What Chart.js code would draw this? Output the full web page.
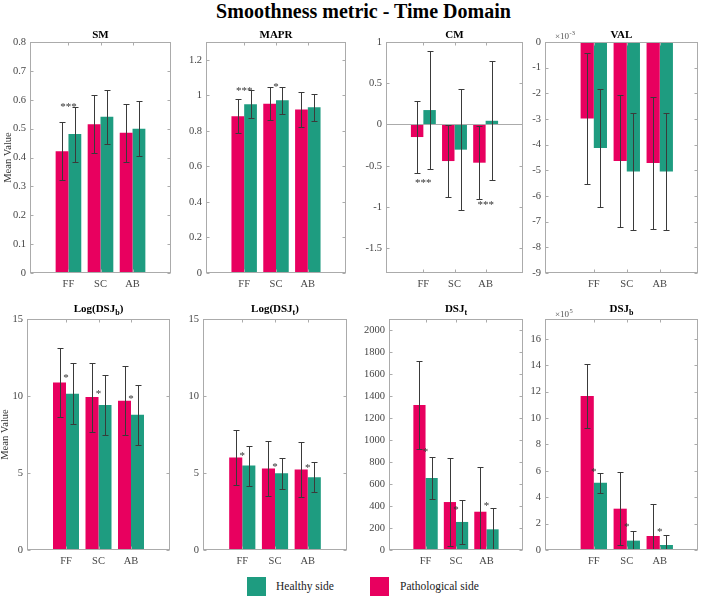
<!DOCTYPE html>
<html>
<head>
<meta charset="utf-8">
<script src="https://cdn.jsdelivr.net/npm/chart.js@4.4.1/dist/chart.umd.min.js"></script>
<style>
  body { margin: 0; background: #fff; }
  #fig { position: relative; width: 702px; height: 599px; overflow: hidden; font-family: 'Liberation Serif', serif; }
  #fig canvas { position: absolute; }
  .main-title { position: absolute; left: 0; width: 727px; top: 0; text-align: center; font-weight: bold; font-size: 20px; line-height: 22px; color: #000; }
  .swatch { position: absolute; top: 577px; width: 19px; height: 19px; }
  .leg-text { position: absolute; top: 578px; font-size: 11.5px; line-height: 17px; color: #222; }
</style>
</head>
<body>
<div id="fig">
  <div class="main-title">Smoothness metric - Time Domain</div>
  <div class="swatch" style="left:247px;background:#1e9c80"></div>
  <div class="leg-text" style="left:276px">Healthy side</div>
  <div class="swatch" style="left:370px;background:#e8005f"></div>
  <div class="leg-text" style="left:400px">Pathological side</div>
</div>
<script>
const categories = ['FF', 'SC', 'AB'];

// SM
const smPath = [0.422, 0.515, 0.486];
const smPathSd = [0.101, 0.101, 0.100];
const smHealthy = [0.481, 0.541, 0.500];
const smHealthySd = [0.095, 0.094, 0.094];
const smStarY = [0.585, null, null];
const smStars = ['***', '', ''];
const smTicks = [0, 0.1, 0.2, 0.3, 0.4, 0.5, 0.6, 0.7, 0.8];

// MAPR
const maprPath = [0.882, 0.953, 0.920];
const maprPathSd = [0.095, 0.094, 0.097];
const maprHealthy = [0.950, 0.972, 0.933];
const maprHealthySd = [0.078, 0.077, 0.077];
const maprStarY = [1.04, 1.065, null];
const maprStars = ['***', '*', ''];
const maprTicks = [0, 0.2, 0.4, 0.6, 0.8, 1, 1.2];

// CM
const cmPath = [-0.152, -0.443, -0.463];
const cmPathSd = [0.44, 0.44, 0.44];
const cmHealthy = [0.175, -0.305, 0.045];
const cmHealthySd = [0.72, 0.73, 0.72];
const cmStarY = [-0.67, null, -0.94];
const cmStars = ['***', '', '***'];
const cmTicks = [-1.5, -1, -0.5, 0, 0.5, 1];

// VAL (x10^-3)
const valPath = [-2.98, -4.64, -4.71];
const valPathSd = [2.55, 2.57, 2.57];
const valHealthy = [-4.13, -5.05, -5.05];
const valHealthySd = [2.30, 2.29, 2.29];
const valStarY = [null, null, null];
const valStars = ['', '', ''];
const valTicks = [-9, -8, -7, -6, -5, -4, -3, -2, -1, 0];

// Log(DSJb)
const ldbPath = [10.88, 9.93, 9.69];
const ldbPathSd = [2.23, 2.24, 2.23];
const ldbHealthy = [10.15, 9.41, 8.78];
const ldbHealthySd = [1.98, 1.95, 1.95];
const ldbStarY = [11.38, 10.34, 10.0];
const ldbStars = ['*', '*', '*'];
const ldbTicks = [0, 5, 10, 15];

// Log(DSJt)
const ldtPath = [6.0, 5.29, 5.22];
const ldtPathSd = [1.77, 1.79, 1.77];
const ldtHealthy = [5.48, 4.99, 4.73];
const ldtHealthySd = [1.3, 1.0, 0.99];
const ldtStarY = [6.29, 5.59, 5.5];
const ldtStars = ['*', '*', '*'];
const ldtTicks = [0, 5, 10, 15];

// DSJt
const dstPath = [1318, 436, 348];
const dstPathSd = [400, 400, 405];
const dstHealthy = [655, 255, 188];
const dstHealthySd = [194, 197, 197];
const dstStarY = [921, 394, 424];
const dstStars = ['*', '*', '*'];
const dstTicks = [0, 200, 400, 600, 800, 1000, 1200, 1400, 1600, 1800, 2000];

// DSJb (x10^5)
const dsbPath = [11.67, 3.13, 1.06];
const dsbPathSd = [2.39, 2.77, 2.40];
const dsbHealthy = [5.10, 0.71, 0.38];
const dsbHealthySd = [0.76, 0.75, 0.73];
const dsbStarY = [6.16, 1.94, 1.62];
const dsbStars = ['*', '*', '*'];
const dsbTicks = [0, 2, 4, 6, 8, 10, 12, 14, 16];

const pink = '#e8005f';
const green = '#1e9c80';
const boxColor = '#ababab';
const errColor = '#3a3a3a';
const tickColor = '#454545';
const serif = "'Liberation Serif', 'Times New Roman', serif";

// box = [left, top, right, bottom] of the plot area on the page
const panels = [
  { title: [['SM']], path: smPath, pathSd: smPathSd, healthy: smHealthy, healthySd: smHealthySd,
    starY: smStarY, stars: smStars, ticks: smTicks, yMin: 0, yMax: 0.8,
    box: [30, 42, 171, 273], xMin: -0.2, xMax: 4.2, yTitle: true, titleOff: 4 },
  { title: [['MAPR']], path: maprPath, pathSd: maprPathSd, healthy: maprHealthy, healthySd: maprHealthySd,
    starY: maprStarY, stars: maprStars, ticks: maprTicks, yMin: 0, yMax: 1.3,
    box: [206, 42, 346, 273], xMin: -0.2, xMax: 4.2, titleOff: 4 },
  { title: [['CM']], path: cmPath, pathSd: cmPathSd, healthy: cmHealthy, healthySd: cmHealthySd,
    starY: cmStarY, stars: cmStars, ticks: cmTicks, yMin: -1.8, yMax: 1,
    box: [386, 42, 523, 273], xMin: -0.2, xMax: 4.2, titleOff: 4 },
  { title: [['VAL']], path: valPath, pathSd: valPathSd, healthy: valHealthy, healthySd: valHealthySd,
    starY: valStarY, stars: valStars, ticks: valTicks, yMin: -9, yMax: 0,
    box: [545, 42, 698, 273], xMin: -0.48, xMax: 4.16, titleOff: 4, exp: '-3', expOff: 3.5 },
  { title: [['Log(DSJ'], ['b', 1], [')']], path: ldbPath, pathSd: ldbPathSd, healthy: ldbHealthy, healthySd: ldbHealthySd,
    starY: ldbStarY, stars: ldbStars, ticks: ldbTicks, yMin: 0, yMax: 15,
    box: [27, 319, 170, 550], xMin: -0.2, xMax: 4.2, yTitle: true, titleOff: 7 },
  { title: [['Log(DSJ'], ['t', 1], [')']], path: ldtPath, pathSd: ldtPathSd, healthy: ldtHealthy, healthySd: ldtHealthySd,
    starY: ldtStarY, stars: ldtStars, ticks: ldtTicks, yMin: 0, yMax: 15,
    box: [203, 319, 347, 550], xMin: -0.2, xMax: 4.2, titleOff: 7 },
  { title: [['DSJ'], ['t', 1]], path: dstPath, pathSd: dstPathSd, healthy: dstHealthy, healthySd: dstHealthySd,
    starY: dstStarY, stars: dstStars, ticks: dstTicks, yMin: 0, yMax: 2100,
    box: [389, 319, 523, 550], xMin: -0.2, xMax: 4.2, titleOff: 7 },
  { title: [['DSJ'], ['b', 1]], path: dsbPath, pathSd: dsbPathSd, healthy: dsbHealthy, healthySd: dsbHealthySd,
    starY: dsbStarY, stars: dsbStars, ticks: dsbTicks, yMin: 0, yMax: 17.5,
    box: [545, 319, 698, 550], xMin: -0.48, xMax: 4.16, titleOff: 7, exp: '5', expOff: 2 },
];

function fmt(v) {
  return String(Math.round(v * 100) / 100);
}

function makeDecor(p) {
  return {
    id: 'decor',
    afterDatasetsDraw(chart) {
      const { ctx, chartArea: a, scales: { x, y } } = chart;
      ctx.save();
      ctx.lineWidth = 1;

      // zero line when the axis crosses 0
      if (p.yMin < 0 && p.yMax > 0) {
        const y0 = Math.round(y.getPixelForValue(0)) + 0.5;
        ctx.strokeStyle = boxColor;
        ctx.beginPath();
        ctx.moveTo(a.left, y0);
        ctx.lineTo(a.right, y0);
        ctx.stroke();
      }

      // error bars, clipped to the plot
      ctx.save();
      ctx.beginPath();
      ctx.rect(a.left, a.top, a.right - a.left, a.bottom - a.top);
      ctx.clip();
      ctx.strokeStyle = errColor;
      [[p.path, p.pathSd], [p.healthy, p.healthySd]].forEach(([m, sd], di) => {
        chart.getDatasetMeta(di).data.forEach((bar, i) => {
          const bx = Math.round(bar.x) + 0.5;
          const hi = Math.round(y.getPixelForValue(m[i] + sd[i])) + 0.5;
          const lo = Math.round(y.getPixelForValue(m[i] - sd[i])) + 0.5;
          ctx.beginPath();
          ctx.moveTo(bx, hi); ctx.lineTo(bx, lo);
          ctx.moveTo(bx - 3, hi); ctx.lineTo(bx + 3, hi);
          ctx.moveTo(bx - 3, lo); ctx.lineTo(bx + 3, lo);
          ctx.stroke();
        });
      });
      ctx.restore();

      // axes box and inward ticks
      ctx.strokeStyle = boxColor;
      const L = Math.round(a.left) + 0.5, R = Math.round(a.right) - 0.5;
      const T = Math.round(a.top) + 0.5, B = Math.round(a.bottom) - 0.5;
      ctx.strokeRect(L, T, R - L, B - T);
      ctx.beginPath();
      p.ticks.forEach(v => {
        const ty = Math.round(y.getPixelForValue(v)) + 0.5;
        ctx.moveTo(L, ty); ctx.lineTo(L + 3, ty);
        ctx.moveTo(R, ty); ctx.lineTo(R - 3, ty);
      });
      categories.forEach((c, i) => {
        const tx = Math.round(x.getPixelForValue(i + 1)) + 0.5;
        ctx.moveTo(tx, T); ctx.lineTo(tx, T + 3);
        ctx.moveTo(tx, B); ctx.lineTo(tx, B - 3);
      });
      ctx.stroke();

      // significance stars
      ctx.fillStyle = '#333';
      ctx.font = '11px ' + serif;
      ctx.textAlign = 'center';
      ctx.textBaseline = 'alphabetic';
      p.stars.forEach((s, i) => {
        if (!s) return;
        ctx.fillText(s, x.getPixelForValue(i + 1), y.getPixelForValue(p.starY[i]) + 6);
      });

      // y axis label
      if (p.yTitle) {
        ctx.save();
        ctx.fillStyle = '#333';
        ctx.font = '10.5px ' + serif;
        ctx.textAlign = 'center';
        ctx.textBaseline = 'middle';
        ctx.translate(a.left - 21.5, (a.top + a.bottom) / 2);
        ctx.rotate(-Math.PI / 2);
        ctx.fillText('Mean Value', 0, 0);
        ctx.restore();
      }

      // panel title with subscripts
      ctx.fillStyle = '#000';
      ctx.textAlign = 'left';
      const parts = p.title.map(([t, sub]) => {
        ctx.font = (sub ? 'bold 8px ' : 'bold 11px ') + serif;
        return { t, sub, w: ctx.measureText(t).width };
      });
      const total = parts.reduce((s, q) => s + q.w, 0);
      let tx = (a.left + a.right) / 2 - total / 2;
      const base = a.top - p.titleOff;
      parts.forEach(q => {
        ctx.font = (q.sub ? 'bold 8px ' : 'bold 11px ') + serif;
        ctx.fillText(q.t, tx, base + (q.sub ? 3 : 0));
        tx += q.w;
      });

      // exponent label
      if (p.exp) {
        ctx.fillStyle = '#555';
        ctx.font = '9px ' + serif;
        const ex = a.left + 10, ey = a.top - p.expOff;
        ctx.fillText('\u00d710', ex, ey);
        const w = ctx.measureText('\u00d710').width;
        ctx.font = '6.5px ' + serif;
        ctx.fillText(p.exp, ex + w + 0.5, ey - 4);
      }
      ctx.restore();
    }
  };
}

const fig = document.getElementById('fig');
const padTop = 30, padRight = 6, xH = 22;

panels.forEach(p => {
  const [l, t, r, b] = p.box;
  const yW = p.yTitle ? l : 32;
  const cv = document.createElement('canvas');
  const w = (r - l) + yW + padRight;
  const h = (b - t) + padTop + xH;
  cv.width = w; cv.height = h;
  cv.style.width = w + 'px'; cv.style.height = h + 'px';
  cv.style.left = (l - yW) + 'px';
  cv.style.top = (t - padTop) + 'px';
  fig.appendChild(cv);

  const tickFont = { family: serif, size: 10.5 };

  new Chart(cv, {
    type: 'bar',
    data: {
      datasets: [
        {
          label: 'Pathological side',
          data: categories.map((c, i) => ({ x: i + 1, y: p.path[i] })),
          backgroundColor: pink,
          categoryPercentage: 0.8,
          barPercentage: 1,
          borderWidth: 0,
        },
        {
          label: 'Healthy side',
          data: categories.map((c, i) => ({ x: i + 1, y: p.healthy[i] })),
          backgroundColor: green,
          categoryPercentage: 0.8,
          barPercentage: 1,
          borderWidth: 0,
        },
      ],
    },
    options: {
      responsive: false,
      animation: false,
      devicePixelRatio: 1,
      layout: { padding: { top: padTop, right: padRight, left: 0, bottom: 0 } },
      plugins: {
        legend: { display: false },
        tooltip: { enabled: false },
      },
      scales: {
        x: {
          type: 'linear',
          min: p.xMin,
          max: p.xMax,
          offset: false,
          grid: { display: false, drawTicks: false, tickLength: 0 },
          border: { display: false },
          afterBuildTicks: s => { s.ticks = categories.map((c, i) => ({ value: i + 1 })); },
          afterFit: s => { s.height = xH; },
          ticks: {
            autoSkip: false,
            maxRotation: 0,
            padding: 5,
            font: tickFont,
            color: tickColor,
            callback: v => categories[Math.round(v) - 1] || '',
          },
        },
        y: {
          type: 'linear',
          min: p.yMin,
          max: p.yMax,
          grid: { display: false, drawTicks: false, tickLength: 0 },
          border: { display: false },
          afterBuildTicks: s => { s.ticks = p.ticks.map(v => ({ value: v })); },
          afterFit: s => { s.width = yW; },
          ticks: {
            autoSkip: false,
            padding: 4,
            font: tickFont,
            color: tickColor,
            callback: v => fmt(v),
          },
        },
      },
    },
    plugins: [makeDecor(p)],
  });
});
</script>
</body>
</html>
